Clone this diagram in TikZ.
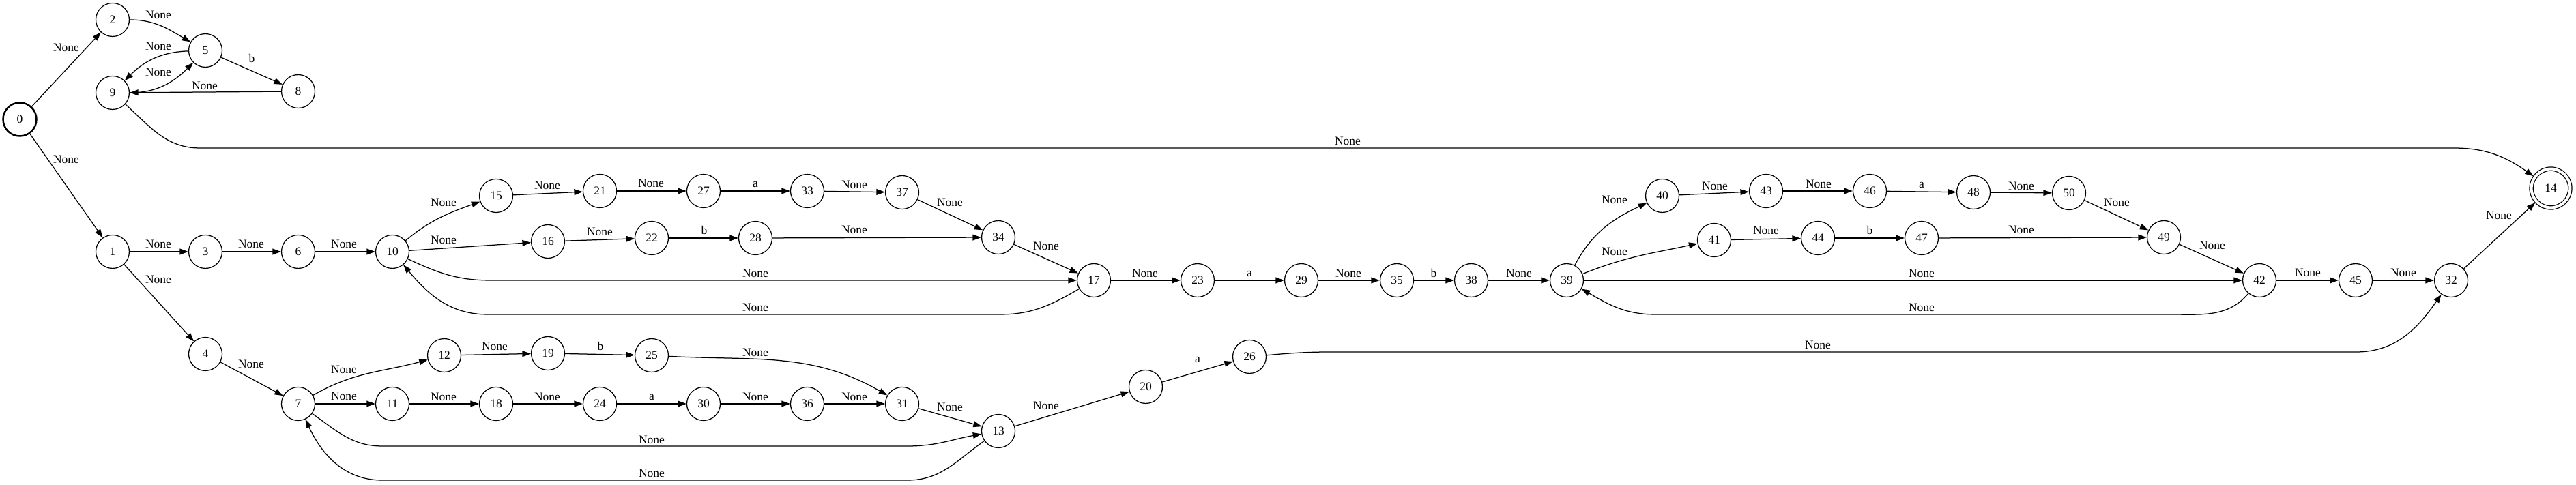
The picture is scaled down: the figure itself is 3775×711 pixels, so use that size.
\documentclass[tikz,border=0pt]{standalone}
\usepackage{fontspec}
\setmainfont{Liberation Serif}
\usetikzlibrary{arrows.meta,positioning}
\tikzset{
  state/.style={circle,draw,line width=0.625pt,minimum size=24.5pt,inner sep=0pt,font=\fontsize{8.75}{10}\selectfont},
  startstate/.style={state,line width=1.25pt},
  acceptstate/.style={state,minimum size=28.4pt,double,double distance=2pt,outer sep=1.3pt},
  edge/.style={-{Triangle[length=6.25pt,width=4.4pt]},line width=0.625pt},
  lbl/.style={font=\fontsize{8.75}{10}\selectfont,inner sep=0pt}
}
\begin{document}
\begin{tikzpicture}[x=0.5pt,y=0.5pt]
  \useasboundingbox (0,0) rectangle (3775,711);
  % states
  \node[startstate] (s0) at (29,536) {0};
  \node[state] (s1) at (165,342) {1};
  \node[state] (s2) at (165,682) {2};
  \node[state] (s3) at (301,342) {3};
  \node[state] (s4) at (301,192) {4};
  \node[state] (s5) at (301,637) {5};
  \node[state] (s6) at (437,342) {6};
  \node[state] (s7) at (437,119) {7};
  \node[state] (s8) at (437,577) {8};
  \node[state] (s9) at (165,575) {9};
  \node[state] (s10) at (575,342) {10};
  \node[state] (s11) at (575,119) {11};
  \node[state] (s12) at (651,190) {12};
  \node[state] (s13) at (1463,79) {13};
  \node[acceptstate] (s14) at (3738,435) {14};
  \node[state] (s15) at (727,424) {15};
  \node[state] (s16) at (803,357) {16};
  \node[state] (s17) at (1603,300) {17};
  \node[state] (s18) at (727,119) {18};
  \node[state] (s19) at (803,193) {19};
  \node[state] (s20) at (1679,144) {20};
  \node[state] (s21) at (879,431) {21};
  \node[state] (s22) at (955,362) {22};
  \node[state] (s23) at (1755,300) {23};
  \node[state] (s24) at (879,119) {24};
  \node[state] (s25) at (955,190) {25};
  \node[state] (s26) at (1831,188) {26};
  \node[state] (s27) at (1031,431) {27};
  \node[state] (s28) at (1107,362) {28};
  \node[state] (s29) at (1907,300) {29};
  \node[state] (s30) at (1031,119) {30};
  \node[state] (s31) at (1322,119) {31};
  \node[state] (s32) at (3592,300) {32};
  \node[state] (s33) at (1183,431) {33};
  \node[state] (s34) at (1463,363) {34};
  \node[state] (s35) at (2047,300) {35};
  \node[state] (s36) at (1183,119) {36};
  \node[state] (s37) at (1322,429) {37};
  \node[state] (s38) at (2156,300) {38};
  \node[state] (s39) at (2296,300) {39};
  \node[state] (s40) at (2436,424) {40};
  \node[state] (s41) at (2512,359) {41};
  \node[state] (s42) at (3311,300) {42};
  \node[state] (s43) at (2588,431) {43};
  \node[state] (s44) at (2664,362) {44};
  \node[state] (s45) at (3452,300) {45};
  \node[state] (s46) at (2740,431) {46};
  \node[state] (s47) at (2816,362) {47};
  \node[state] (s48) at (2892,429) {48};
  \node[state] (s49) at (3171,363) {49};
  \node[state] (s50) at (3032,428) {50};
  % upper branch
  \draw[edge] (s0) -- (s2) node[lbl] (l0-2) at (97,641) {None};
  \draw[edge] (s0) -- (s1) node[lbl] (l0-1) at (97,477) {None};
  \draw[edge] (s2) to[out=0,in=150] (s5) node[lbl] (l2-5) at (232,689) {None};
  \draw[edge] (s5) to[out=182,in=45] (s9) node[lbl] (l5-9) at (232,643) {None};
  \draw[edge] (s9) to[out=0,in=225] (s5) node[lbl] (l9-5) at (232,605) {None};
  \draw[edge] (s5) -- (s8) node[lbl] (l5-8) at (369,625) {b};
  \draw[edge] (s8) -- (s9) node[lbl] (l8-9) at (300,585) {None};
  \draw[edge] (s9) to[out=-42,in=180] (293,494) -- (3596,494) to[out=0,in=145] (s14) node[lbl] (l9-14) at (1975,504) {None};
  % middle branch
  \draw[edge] (s1) -- (s3) node[lbl] (l1-3) at (232,353) {None};
  \draw[edge] (s3) -- (s6) node[lbl] (l3-6) at (368,353) {None};
  \draw[edge] (s6) -- (s10) node[lbl] (l6-10) at (504,353) {None};
  \draw[edge] (s10) to[out=40,in=200] (s15) node[lbl] (l10-15) at (650,414) {None};
  \draw[edge] (s10) -- (s16) node[lbl] (l10-16) at (650,359) {None};
  \draw[edge] (s15) -- (s21) node[lbl] (l15-21) at (802,439) {None};
  \draw[edge] (s21) -- (s27) node[lbl] (l21-27) at (954,442) {None};
  \draw[edge] (s27) -- (s33) node[lbl] (l27-33) at (1107,441) {a};
  \draw[edge] (s33) -- (s37) node[lbl] (l33-37) at (1252,440) {None};
  \draw[edge] (s37) -- (s34) node[lbl] (l37-34) at (1392,414) {None};
  \draw[edge] (s16) -- (s22) node[lbl] (l16-22) at (879,371) {None};
  \draw[edge] (s22) -- (s28) node[lbl] (l22-28) at (1032,373) {b};
  \draw[edge] (s28) -- (s34) node[lbl] (l28-34) at (1252,374) {None};
  \draw[edge] (s34) -- (s17) node[lbl] (l34-17) at (1533,350) {None};
  \draw[edge] (s10) to[out=-25,in=180] (720,300) -- (s17) node[lbl] (l10-17) at (1107,310) {None};
  \draw[edge] (s17) to[out=210,in=0] (1465,250) -- (715,250) to[out=180,in=-50] (s10) node[lbl] (l17-10) at (1107,260) {None};
  \draw[edge] (s17) -- (s23) node[lbl] (l17-23) at (1678,310) {None};
  \draw[edge] (s23) -- (s29) node[lbl] (l23-29) at (1831,310) {a};
  \draw[edge] (s29) -- (s35) node[lbl] (l29-35) at (1976,310) {None};
  \draw[edge] (s35) -- (s38) node[lbl] (l35-38) at (2101,310) {b};
  \draw[edge] (s38) -- (s39) node[lbl] (l38-39) at (2226,310) {None};
  \draw[edge] (s39) to[out=62,in=205] (s40) node[lbl] (l39-40) at (2366,418) {None};
  \draw[edge] (s39) to[out=22,in=192] (s41) node[lbl] (l39-41) at (2366,342) {None};
  \draw[edge] (s40) -- (s43) node[lbl] (l40-43) at (2513,438) {None};
  \draw[edge] (s43) -- (s46) node[lbl] (l43-46) at (2665,441) {None};
  \draw[edge] (s46) -- (s48) node[lbl] (l46-48) at (2816,440) {a};
  \draw[edge] (s48) -- (s50) node[lbl] (l48-50) at (2962,438) {None};
  \draw[edge] (s50) -- (s49) node[lbl] (l50-49) at (3102,414) {None};
  \draw[edge] (s41) -- (s44) node[lbl] (l41-44) at (2588,373) {None};
  \draw[edge] (s44) -- (s47) node[lbl] (l44-47) at (2740,373) {b};
  \draw[edge] (s47) -- (s49) node[lbl] (l47-49) at (2962,374) {None};
  \draw[edge] (s49) -- (s42) node[lbl] (l49-42) at (3242,351) {None};
  \draw[edge] (s39) -- (s42) node[lbl] (l39-42) at (2816,310) {None};
  \draw[edge] (s42) to[out=230,in=0] (3180,250) -- (2426,250) to[out=180,in=-30] (s39) node[lbl] (l42-39) at (2816,260) {None};
  \draw[edge] (s42) -- (s45) node[lbl] (l42-45) at (3382,311) {None};
  \draw[edge] (s45) -- (s32) node[lbl] (l45-32) at (3522,311) {None};
  \draw[edge] (s32) -- (s14) node[lbl] (l32-14) at (3662,395) {None};
  % lower branch
  \draw[edge] (s1) -- (s4) node[lbl] (l1-4) at (232,301) {None};
  \draw[edge] (s4) -- (s7) node[lbl] (l4-7) at (368,177) {None};
  \draw[edge] (s7) to[out=30,in=195] (s12) node[lbl] (l7-12) at (504,169) {None};
  \draw[edge] (s7) -- (s11) node[lbl] (l7-11) at (504,130) {None};
  \draw[edge] (s12) -- (s19) node[lbl] (l12-19) at (725,203) {None};
  \draw[edge] (s19) -- (s25) node[lbl] (l19-25) at (880,203) {b};
  \draw[edge] (s25) to[out=-3,in=150] (s31) node[lbl] (l25-31) at (1107,194) {None};
  \draw[edge] (s11) -- (s18) node[lbl] (l11-18) at (650,129) {None};
  \draw[edge] (s18) -- (s24) node[lbl] (l18-24) at (802,129) {None};
  \draw[edge] (s24) -- (s30) node[lbl] (l24-30) at (955,129) {a};
  \draw[edge] (s30) -- (s36) node[lbl] (l30-36) at (1107,129) {None};
  \draw[edge] (s36) -- (s31) node[lbl] (l36-31) at (1252,129) {None};
  \draw[edge] (s31) -- (s13) node[lbl] (l31-13) at (1392,114) {None};
  \draw[edge] (s7) to[out=-35,in=180] (560,57) -- (1330,57) to[out=0,in=190] (s13) node[lbl] (l7-13) at (955,66) {None};
  \draw[edge] (s13) to[out=215,in=0] (1330,7) -- (560,7) to[out=180,in=-65] (s7) node[lbl] (l13-7) at (955,17) {None};
  \draw[edge] (s13) -- (s20) node[lbl] (l13-20) at (1533,116) {None};
  \draw[edge] (s20) -- (s26) node[lbl] (l20-26) at (1755,184) {a};
  \draw[edge] (s26) to[out=5,in=180] (1950,195) -- (3453,195) to[out=0,in=235] (s32) node[lbl] (l26-32) at (2664,205) {None};
\end{tikzpicture}
\end{document}
